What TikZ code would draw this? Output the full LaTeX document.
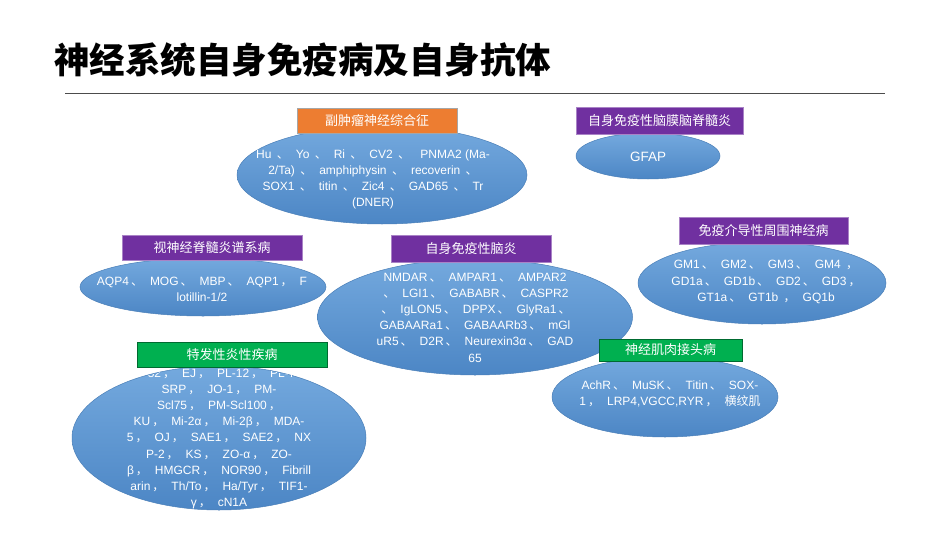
\documentclass[tikz,border=0pt]{standalone}
\usepackage{fontspec}
\setmainfont{Liberation Sans}
\newfontfamily\cjk{Noto Sans CJK SC}
\newcommand{\dn}{\hspace{2pt}{\cjk 、}\hspace{7pt}}
\newcommand{\cm}{\hspace{2pt}{\cjk ，}\hspace{7pt}}
\usetikzlibrary{shapes.geometric}
\definecolor{tagorange}{HTML}{ED7D31}
\definecolor{tagpurple}{HTML}{7030A0}
\definecolor{taggreen}{HTML}{00B050}
\definecolor{bluetop}{HTML}{74A9DE}
\definecolor{bluebot}{HTML}{4C86C5}
\definecolor{bluedge}{HTML}{4A7FB8}
\begin{document}
\begin{tikzpicture}[x=1pt,y=-1pt,
  blob/.style={ellipse, draw=bluedge, line width=0.5pt, top color=bluetop, bottom color=bluebot, inner sep=0pt},
  tag/.style={rectangle, text=white, inner sep=0pt, font=\cjk\fontsize{13}{15}\selectfont, line width=0.6pt},
  body/.style={text=white, align=center, inner sep=0pt, font=\fontsize{12}{16.2}\selectfont}]
\fill[white] (0,0) rectangle (950,535);
\useasboundingbox (0,0) rectangle (950,535);

% title
\node[anchor=base west, font=\cjk\fontsize{35.5}{40}\selectfont\bfseries, inner sep=0pt] (title) at (54,74) {神经系统自身免疫病及自身抗体};
\coordinate (rl) at (65,93);
\coordinate (rr) at (885,93);
\draw[line width=1pt, black!70] (rl) -- (rr);

% ellipses (back to front)
\node[blob, minimum width=226pt, minimum height=80pt] (enmj) at (665,397) {};
\node[blob, minimum width=315pt, minimum height=116pt] (eenc) at (475,317) {};
\node[blob, minimum width=246pt, minimum height=58pt] (enmo) at (203,287) {};
\node[blob, minimum width=248pt, minimum height=82pt] (eper) at (762,283) {};
\node[blob, minimum width=290pt, minimum height=98pt] (epar) at (382,175) {};
\node[blob, minimum width=144pt, minimum height=46pt] (egfap) at (648,156) {};
\node[blob, minimum width=294pt, minimum height=144pt] (eidi) at (219,438) {};

% texts
\node[body] (tpar) at (373,179.5) {Hu \dn Yo \dn Ri \dn CV2 \dn ~PNMA2 (Ma-\\2/Ta) \dn amphiphysin \dn recoverin \dn\\SOX1 \dn titin \dn Zic4 \dn GAD65 \dn Tr\\(DNER)};
\node[body, font=\fontsize{13.5}{16}\selectfont] (tgfap) at (648,157) {GFAP};
\node[body] (tnmo) at (202,289) {AQP4\dn MOG\dn MBP\dn AQP1\cm F\\lotillin-1/2};
\node[body] (tenc) at (475,317.5) {NMDAR\dn AMPAR1\dn AMPAR2\\\dn LGI1\dn GABABR\dn CASPR2\\\dn IgLON5\dn DPPX\dn GlyRa1\dn\\GABAARa1\dn GABAARb3\dn mGl\\uR5\dn D2R\dn Neurexin3α\dn GAD\\65};
\node[body] (tper) at (766,282) {GM1\dn GM2\dn GM3\dn GM4 \cm\\GD1a\dn GD1b\dn GD2\dn GD3\cm\\GT1a\dn GT1b \cm GQ1b};
\node[body] (tnmj) at (670,394) {AchR\dn MuSK\dn Titin\dn SOX-\\1\cm LRP4,VGCC,RYR\cm {\cjk 横纹肌}};
\begin{scope}
  \clip (219,438) ellipse [x radius=147, y radius=72];
  \node[body] (tidi) at (219,439) {Ro-52\cm EJ\cm PL-12\cm PL-7\cm\\SRP\cm JO-1\cm PM-\\Scl75\cm PM-Scl100\cm\\KU\cm Mi-2α\cm Mi-2β\cm MDA-\\5\cm OJ\cm SAE1\cm SAE2\cm NX\\P-2\cm KS\cm ZO-α\cm ZO-\\β\cm HMGCR\cm NOR90\cm Fibrill\\arin\cm Th/To\cm Ha/Tyr\cm TIF1-\\γ\cm cN1A};
\end{scope}

% labels
\node[tag, fill=tagorange, draw=black!35, minimum width=160pt, minimum height=25pt] (lpar) at (377,120.5) {副肿瘤神经综合征};
\node[tag, fill=tagpurple, draw=tagpurple!60!white, minimum width=167pt, minimum height=27pt] (lgfap) at (659.5,120.5) {自身免疫性脑膜脑脊髓炎};
\node[tag, fill=tagpurple, draw=tagpurple!60!white, minimum width=180pt, minimum height=25pt] (lnmo) at (212,247.5) {视神经脊髓炎谱系病};
\node[tag, fill=tagpurple, draw=tagpurple!60!white, minimum width=160pt, minimum height=27pt] (lenc) at (471,248.5) {自身免疫性脑炎};
\node[tag, fill=tagpurple, draw=tagpurple!60!white, minimum width=169pt, minimum height=27pt] (lper) at (763.5,230.5) {免疫介导性周围神经病};
\node[tag, fill=taggreen, draw=taggreen!60!black, minimum width=190pt, minimum height=25pt] (lidi) at (232,354.5) {特发性炎性疾病};
\node[tag, fill=taggreen, draw=taggreen!60!black, minimum width=143pt, minimum height=22pt] (lnmj) at (670.5,350) {神经肌肉接头病};
\end{tikzpicture}
\end{document}
